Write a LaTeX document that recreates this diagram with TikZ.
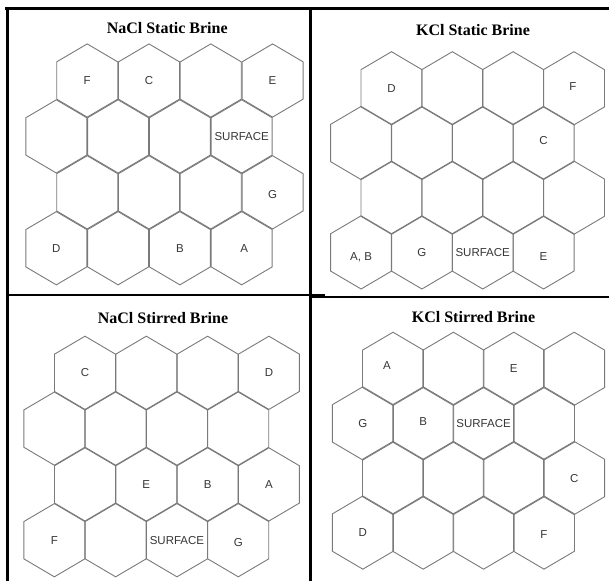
\documentclass[tikz,border=0pt]{standalone}
\usepackage{fontspec}
\setmainfont{Liberation Serif}
\newfontfamily\cellfont{Liberation Sans}
\usepackage{xcolor}
\usepackage{tikz}
\definecolor{figline}{RGB}{0,0,0}
\definecolor{figcell}{RGB}{122,122,122}
\definecolor{figtag}{RGB}{55,55,55}
\tikzset{
  panelrule/.style ={draw=figline, line cap=butt},
  cellline/.style  ={draw=figcell, line width=0.9pt, line join=miter},
  ttl/.style       ={font=\fontsize{16}{18}\selectfont\bfseries, anchor=base, inner sep=0pt},
  tag/.style       ={font=\cellfont\fontsize{11.5}{13}\selectfont, text=figtag, inner sep=0pt, text height=8.2pt, text depth=0pt},
  hexcell/.pic     ={\draw[cellline] (0,-36.6) -- (30.5,-18.65) -- (30.5,18.65) -- (0,36.6) -- (-30.5,18.65) -- (-30.5,-18.65) -- cycle;},
}

\begin{document}
\begin{tikzpicture}[x=1pt,y=-1pt]
  \fill[white] (0,0) rectangle (609,581);
  \useasboundingbox (0,0) rectangle (609,581);
  \draw[panelrule, line width=3.3pt] (5,8.5) -- (609,8.5);
  \draw[panelrule, line width=3pt] (7.3,7) -- (7.3,581);
  \draw[panelrule, line width=2.5pt] (310.5,8.5) -- (310.5,581);
  \draw[panelrule, line width=2.3pt] (7.3,295.2) -- (325,295.2);
  \draw[panelrule, line width=2.5pt] (310.5,297) -- (609,297);
  \node[ttl] (nsTitle) at (167.2,33.3) {NaCl Static Brine};
  \node[ttl] (ksTitle) at (473,35) {KCl Static Brine};
  \node[ttl] (nrTitle) at (163,323.3) {NaCl Stirred Brine};
  \node[ttl] (krTitle) at (473.5,322.7) {KCl Stirred Brine};
  \begin{scope}[shift={(87.2,80.5)}, xscale=1.013, yscale=1.012]
  \pic at (0,0) {hexcell};
  \pic at (61,0) {hexcell};
  \pic at (122,0) {hexcell};
  \pic at (183,0) {hexcell};
  \pic at (-30.5,55.25) {hexcell};
  \pic at (30.5,55.25) {hexcell};
  \pic at (91.5,55.25) {hexcell};
  \pic at (152.5,55.25) {hexcell};
  \pic at (0,110.5) {hexcell};
  \pic at (61,110.5) {hexcell};
  \pic at (122,110.5) {hexcell};
  \pic at (183,110.5) {hexcell};
  \pic at (-30.5,165.75) {hexcell};
  \pic at (30.5,165.75) {hexcell};
  \pic at (91.5,165.75) {hexcell};
  \pic at (152.5,165.75) {hexcell};
  \node[tag] (nsF) at (0,0) {F};
  \node[tag] (nsC) at (61,0) {C};
  \node[tag] (nsE) at (183,0) {E};
  \node[tag] (nsSurf) at (152.5,55.25) {SURFACE};
  \node[tag] (nsG) at (183,113) {G};
  \node[tag] (nsD) at (-30.5,165.75) {D};
  \node[tag] (nsB) at (91.5,165.75) {B};
  \node[tag] (nsA) at (155,165.75) {A};
  \end{scope}
  \begin{scope}[shift={(391.5,88.3)}, xscale=0.997, yscale=0.99]
  \pic at (0,0) {hexcell};
  \pic at (61,0) {hexcell};
  \pic at (122,0) {hexcell};
  \pic at (183,0) {hexcell};
  \pic at (-30.5,55.25) {hexcell};
  \pic at (30.5,55.25) {hexcell};
  \pic at (91.5,55.25) {hexcell};
  \pic at (152.5,55.25) {hexcell};
  \pic at (0,110.5) {hexcell};
  \pic at (61,110.5) {hexcell};
  \pic at (122,110.5) {hexcell};
  \pic at (183,110.5) {hexcell};
  \pic at (-30.5,165.75) {hexcell};
  \pic at (30.5,165.75) {hexcell};
  \pic at (91.5,165.75) {hexcell};
  \pic at (152.5,165.75) {hexcell};
  \node[tag] (ksD) at (0,0) {D};
  \node[tag] (ksF) at (182,-2) {F};
  \node[tag] (ksC) at (152.5,53) {C};
  \node[tag] (ksAB) at (-30.5,169.5) {A, B};
  \node[tag] (ksG) at (30.5,165.75) {G};
  \node[tag] (ksSurf) at (91.5,165.75) {SURFACE};
  \node[tag] (ksE) at (152.5,169.5) {E};
  \end{scope}
  \begin{scope}[shift={(85,372.8)}, xscale=1.005, yscale=1.01]
  \pic at (0,0) {hexcell};
  \pic at (61,0) {hexcell};
  \pic at (122,0) {hexcell};
  \pic at (183,0) {hexcell};
  \pic at (-30.5,55.25) {hexcell};
  \pic at (30.5,55.25) {hexcell};
  \pic at (91.5,55.25) {hexcell};
  \pic at (152.5,55.25) {hexcell};
  \pic at (0,110.5) {hexcell};
  \pic at (61,110.5) {hexcell};
  \pic at (122,110.5) {hexcell};
  \pic at (183,110.5) {hexcell};
  \pic at (-30.5,165.75) {hexcell};
  \pic at (30.5,165.75) {hexcell};
  \pic at (91.5,165.75) {hexcell};
  \pic at (152.5,165.75) {hexcell};
  \node[tag] (nrC) at (0,0) {C};
  \node[tag] (nrD) at (183,0) {D};
  \node[tag] (nrE) at (61,110.5) {E};
  \node[tag] (nrB) at (122,110.5) {B};
  \node[tag] (nrA) at (183,110.5) {A};
  \node[tag] (nrF) at (-30.5,165.75) {F};
  \node[tag] (nrSurf) at (91.5,165.75) {SURFACE};
  \node[tag] (nrG) at (152.5,167.5) {G};
  \end{scope}
  \begin{scope}[shift={(393,368.8)}, xscale=0.99, yscale=0.988]
  \pic at (0,0) {hexcell};
  \pic at (61,0) {hexcell};
  \pic at (122,0) {hexcell};
  \pic at (183,0) {hexcell};
  \pic at (-30.5,55.25) {hexcell};
  \pic at (30.5,55.25) {hexcell};
  \pic at (91.5,55.25) {hexcell};
  \pic at (152.5,55.25) {hexcell};
  \pic at (0,110.5) {hexcell};
  \pic at (61,110.5) {hexcell};
  \pic at (122,110.5) {hexcell};
  \pic at (183,110.5) {hexcell};
  \pic at (-30.5,165.75) {hexcell};
  \pic at (30.5,165.75) {hexcell};
  \pic at (91.5,165.75) {hexcell};
  \pic at (152.5,165.75) {hexcell};
  \node[tag] (krA) at (-6,-3) {A};
  \node[tag] (krE) at (122,0) {E};
  \node[tag] (krG) at (-30.5,55.25) {G};
  \node[tag] (krB) at (30.5,53) {B};
  \node[tag] (krSurf) at (91.5,55.25) {SURFACE};
  \node[tag] (krC) at (183,110.5) {C};
  \node[tag] (krD) at (-30.5,165.75) {D};
  \node[tag] (krF) at (152.5,167.5) {F};
  \end{scope}
\end{tikzpicture}
\end{document}
